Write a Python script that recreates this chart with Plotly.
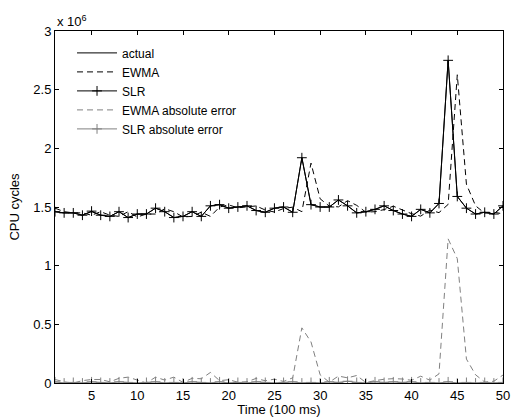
import plotly.graph_objects as go

# time index (units of 100 ms)
t = list(range(1, 51))

# CPU cycles, in units of 1e6
actual = [1.46, 1.45, 1.45, 1.43, 1.46, 1.43, 1.42, 1.46, 1.41, 1.44,
          1.44, 1.49, 1.46, 1.41, 1.42, 1.46, 1.42, 1.51, 1.52, 1.49,
          1.50, 1.51, 1.47, 1.455, 1.49, 1.50, 1.455, 1.92, 1.52, 1.50,
          1.50, 1.56, 1.51, 1.45, 1.46, 1.48, 1.51, 1.47, 1.44, 1.42,
          1.48, 1.45, 1.53, 2.75, 1.59, 1.49, 1.44, 1.455, 1.44, 1.51]

ewma = [1.49, 1.46, 1.45, 1.45, 1.43, 1.46, 1.43, 1.42, 1.46, 1.415,
        1.44, 1.44, 1.485, 1.46, 1.415, 1.42, 1.456, 1.42, 1.50, 1.518,
        1.493, 1.499, 1.509, 1.474, 1.457, 1.487, 1.499, 1.46, 1.874, 1.57,
        1.507, 1.501, 1.554, 1.514, 1.456, 1.46, 1.478, 1.507, 1.474, 1.443,
        1.422, 1.474, 1.452, 1.522, 2.627, 1.694, 1.51, 1.447, 1.455, 1.442]

slr = [1.46, 1.45, 1.45, 1.43, 1.465, 1.43, 1.42, 1.46, 1.41, 1.44,
       1.44, 1.49, 1.46, 1.41, 1.42, 1.46, 1.42, 1.51, 1.52, 1.49,
       1.50, 1.51, 1.47, 1.455, 1.49, 1.50, 1.455, 1.92, 1.52, 1.50,
       1.50, 1.56, 1.51, 1.45, 1.46, 1.48, 1.51, 1.47, 1.44, 1.42,
       1.48, 1.45, 1.53, 2.75, 1.59, 1.49, 1.44, 1.455, 1.44, 1.51]

ewma_err = [0.03, 0.01, 0.00, 0.02, 0.03, 0.03, 0.01, 0.04, 0.05, 0.025,
            0.00, 0.05, 0.025, 0.05, 0.005, 0.04, 0.036, 0.09, 0.02, 0.028,
            0.007, 0.011, 0.039, 0.019, 0.033, 0.013, 0.044, 0.47, 0.35, 0.07,
            0.007, 0.059, 0.044, 0.064, 0.004, 0.02, 0.032, 0.037, 0.034, 0.023,
            0.058, 0.024, 0.078, 1.228, 1.06, 0.204, 0.07, 0.008, 0.015, 0.068]

slr_err = [0.01, 0.00, 0.005, 0.00, 0.01, 0.005, 0.00, 0.01, 0.005, 0.00,
           0.005, 0.01, 0.00, 0.005, 0.00, 0.01, 0.005, 0.00, 0.01, 0.00,
           0.005, 0.00, 0.01, 0.005, 0.00, 0.005, 0.01, 0.00, 0.005, 0.00,
           0.01, 0.005, 0.015, 0.005, 0.00, 0.01, 0.005, 0.01, 0.005, 0.01,
           0.00, 0.005, 0.00, 0.01, 0.00, 0.005, 0.00, 0.005, 0.00, 0.005]

x_ticks = [5, 10, 15, 20, 25, 30, 35, 40, 45, 50]
y_ticks = [0, 0.5, 1, 1.5, 2, 2.5, 3]
y_tick_text = ["0", "0.5", "1", "1.5", "2", "2.5", "3"]

GRAY = "#808080"
BLACK = "#000000"

fig = go.Figure()
fig.add_trace(go.Scatter(x=t, y=actual, name="actual", mode="lines",
                         line=dict(color=BLACK, width=1)))
fig.add_trace(go.Scatter(x=t, y=ewma, name="EWMA", mode="lines",
                         line=dict(color=BLACK, width=1, dash="6px,4px")))
fig.add_trace(go.Scatter(x=t, y=slr, name="SLR", mode="lines+markers",
                         line=dict(color=BLACK, width=1),
                         marker=dict(symbol="cross-thin", size=7,
                                     line=dict(color=BLACK, width=1))))
fig.add_trace(go.Scatter(x=t, y=ewma_err, name="EWMA absolute error", mode="lines",
                         line=dict(color=GRAY, width=1, dash="6px,4px")))
fig.add_trace(go.Scatter(x=t, y=slr_err, name="SLR absolute error", mode="lines+markers",
                         line=dict(color=GRAY, width=1),
                         marker=dict(symbol="cross-thin", size=7,
                                     line=dict(color=GRAY, width=1))))

FAM = "Liberation Sans, Arial, sans-serif"
font = dict(family=FAM, size=13, color="#000000")

fig.update_layout(
    width=511, height=417,
    margin=dict(l=55, r=8, t=31, b=34),
    paper_bgcolor="white", plot_bgcolor="white",
    font=font,
    showlegend=True,
    legend=dict(x=0.038, y=0.979, xanchor="left", yanchor="top",
                bgcolor="rgba(0,0,0,0)", borderwidth=0, itemwidth=40,
                font=dict(family=FAM, size=12, color="#000000"),
                tracegroupgap=0),
    xaxis=dict(range=[1, 50], tickvals=x_ticks, showgrid=False, zeroline=False,
               showline=True, linecolor=BLACK, linewidth=1, mirror="ticks",
               ticks="inside", ticklen=4, tickcolor=BLACK, automargin=False,
               tickfont=dict(family=FAM, size=13),
               title=dict(text="Time (100 ms)", standoff=0, font=font)),
    yaxis=dict(range=[0, 3], tickvals=y_ticks, ticktext=y_tick_text,
               showgrid=False, zeroline=False, automargin=False,
               showline=True, linecolor=BLACK, linewidth=1, mirror="ticks",
               ticks="inside", ticklen=4, tickcolor=BLACK,
               tickfont=dict(family=FAM, size=13),
               title=dict(text="CPU cycles", standoff=10, font=font)),
    annotations=[dict(text="x 10<sup>6</sup>", xref="paper", yref="paper",
                      x=0, y=1, xanchor="left", yanchor="bottom",
                      showarrow=False, font=font, yshift=0)],
)

fig.write_html(
    "out.html",
    config={"displayModeBar": False},
    post_script="document.body.style.margin='0';document.body.style.overflow='hidden';",
)
